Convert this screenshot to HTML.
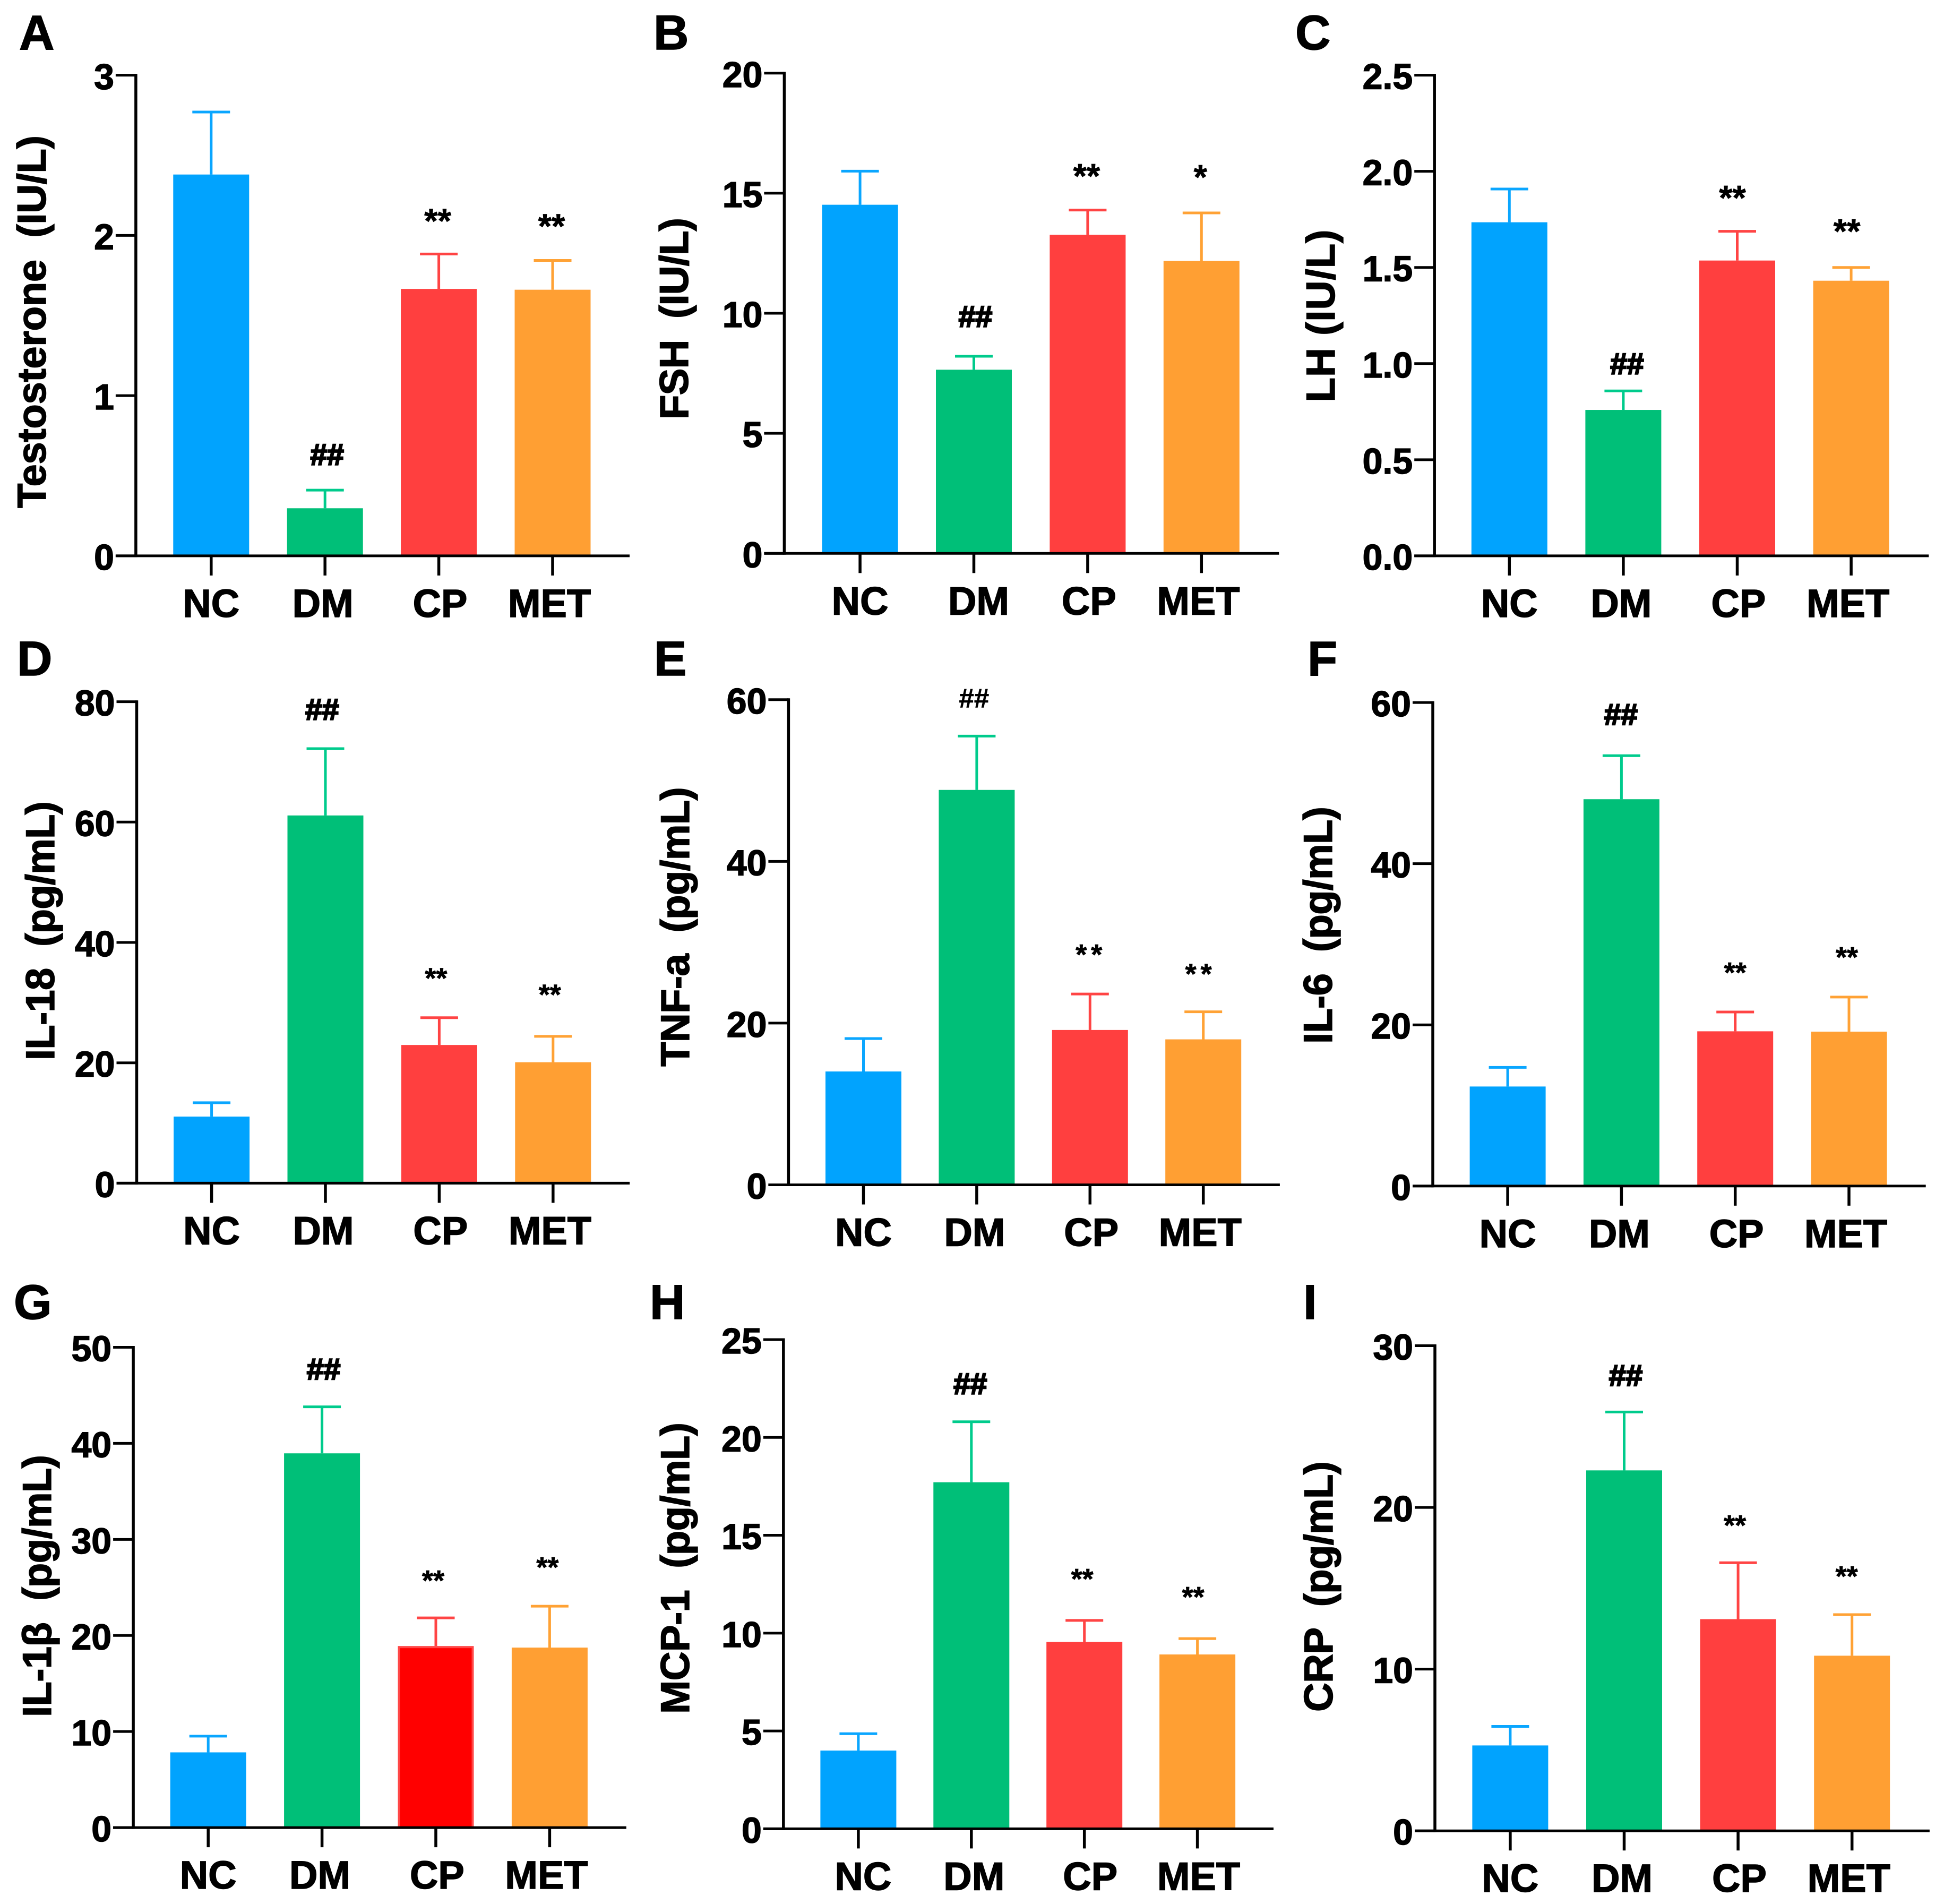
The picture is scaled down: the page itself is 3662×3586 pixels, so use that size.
<!DOCTYPE html>
<html lang="en">
<head>
<meta charset="utf-8">
<title>Hormone and cytokine bar charts</title>
<style>
  html, body { margin: 0; padding: 0; background: #fff; }
  svg { display: block; }
  text { font-family: "Liberation Sans", "DejaVu Sans", sans-serif; font-weight: bold; fill: #000; white-space: pre; stroke: #000; stroke-width: 1.5; }
  text.hash { stroke-width: 2.6; }
  text.thin { stroke-width: 0.6; }
  text.star { stroke-width: 0.8; }
</style>
</head>
<body>
<svg id="figure" xmlns="http://www.w3.org/2000/svg" width="3662" height="3586" viewBox="0 0 3662 3586"></svg>
<script>
const categories = ['NC', 'DM', 'CP', 'MET'];

const testosteroneMeans = [2.38, 0.297, 1.666, 1.661];
const testosteroneErrors = [0.39, 0.113, 0.218, 0.183];
const testosteroneTicks = ['0', '1', '2', '3'];
const testosteroneSig = ['', '##', '**', '**'];

const fshMeans = [14.52, 7.65, 13.27, 12.18];
const fshErrors = [1.40, 0.56, 1.03, 2.00];
const fshTicks = ['0', '5', '10', '15', '20'];
const fshSig = ['', '##', '**', '*'];

const lhMeans = [1.735, 0.759, 1.536, 1.431];
const lhErrors = [0.173, 0.099, 0.152, 0.069];
const lhTicks = ['0.0', '0.5', '1.0', '1.5', '2.0', '2.5'];
const lhSig = ['', '##', '**', '**'];

const il18Means = [11.07, 61.1, 22.96, 20.1];
const il18Errors = [2.3, 11.1, 4.54, 4.3];
const il18Ticks = ['0', '20', '40', '60', '80'];
const il18Sig = ['', '##', '**', '**'];

const tnfMeans = [14.02, 48.84, 19.15, 17.99];
const tnfErrors = [4.07, 6.66, 4.45, 3.41];
const tnfTicks = ['0', '20', '40', '60'];
const tnfSig = ['', '##', '**', '**'];

const il6Means = [12.35, 48.0, 19.2, 19.16];
const il6Errors = [2.37, 5.4, 2.4, 4.29];
const il6Ticks = ['0', '20', '40', '60'];
const il6Sig = ['', '##', '**', '**'];

const il1bMeans = [7.83, 38.96, 18.9, 18.74];
const il1bErrors = [1.69, 4.84, 2.93, 4.31];
const il1bTicks = ['0', '10', '20', '30', '40', '50'];
const il1bSig = ['', '##', '**', '**'];

const mcpMeans = [4.0, 17.71, 9.55, 8.91];
const mcpErrors = [0.86, 3.09, 1.1, 0.81];
const mcpTicks = ['0', '5', '10', '15', '20', '25'];
const mcpSig = ['', '##', '**', '**'];

const crpMeans = [5.28, 22.29, 13.09, 10.83];
const crpErrors = [1.18, 3.61, 3.49, 2.54];
const crpTicks = ['0', '10', '20', '30'];
const crpSig = ['', '##', '**', '**'];

const panels = [
  { id: 'a', letter: 'A', lx: 36, ly: 93, title: 'Testosterone  (IU/L)', tx: 86, ty: 606, tl: 702,
    means: testosteroneMeans, errors: testosteroneErrors, ticks: testosteroneTicks, sig: testosteroneSig,
    ax: 255.9, top: 141.6, base: 1046.9, right: 1186, c0: 397.8, step: 214.4,
    lift: [0, 66, 71, 73], dx: [0, 4, -2, -2], star: 65, hash: 57, nudge: [0, -4, 2.4, -6] },
  { id: 'b', letter: 'B', lx: 1231, ly: 93, title: 'FSH  (IU/L)', tx: 1296, ty: 600, tl: 380,
    means: fshMeans, errors: fshErrors, ticks: fshTicks, sig: fshSig,
    ax: 1477.4, top: 137.8, base: 1042.3, right: 2409.3, c0: 1620.1, step: 214.4,
    lift: [0, 74, 73, 76], dx: [0, 3, -2, -2], star: 65, hash: 57, nudge: [0, 9, 2.4, -6] },
  { id: 'c', letter: 'C', lx: 2440, ly: 93, title: 'LH (IU/L)', tx: 2514, ty: 595, tl: 325,
    means: lhMeans, errors: lhErrors, ticks: lhTicks, sig: lhSig,
    ax: 2702.2, top: 141.6, base: 1046.9, right: 3633.3, c0: 2843.3, step: 214.6,
    lift: [0, 50, 72, 77], dx: [0, 7, -9, -8], star: 65, hash: 57, nudge: [0, -4, 2.4, -6] },
  { id: 'd', letter: 'D', lx: 32, ly: 1272, title: 'IL-18  (pg/mL)', tx: 102, ty: 1753, tl: 488,
    means: il18Means, errors: il18Errors, ticks: il18Ticks, sig: il18Sig,
    ax: 257.5, top: 1321.6, base: 2228.4, right: 1186.2, c0: 398.6, step: 214.4,
    lift: [0, 73, 82, 86], dx: [0, -6, -6, -6], star: 54, hash: 57, nudge: [0, -4, 2.4, -6] },
  { id: 'e', letter: 'E', lx: 1232, ly: 1272, title: 'TNF-a  (pg/mL)', tx: 1298, ty: 1745.5, tl: 526.5,
    means: tnfMeans, errors: tnfErrors, ticks: tnfTicks, sig: tnfSig,
    ax: 1485.4, top: 1317.8, base: 2231.5, right: 2410.9, c0: 1626.5, step: 213.4,
    lift: [0, 70, 82, 79], dx: [0, -5, 2, -5], star: 54, hash: 51, thin: true, nudge: [0, -4, 2.4, -6] },
  { id: 'f', letter: 'F', lx: 2463, ly: 1272, title: 'IL-6  (pg/mL)', tx: 2509, ty: 1742.5, tl: 447,
    means: il6Means, errors: il6Errors, ticks: il6Ticks, sig: il6Sig,
    ax: 2699, top: 1323.1, base: 2233.8, right: 3627.7, c0: 2840.1, step: 214.3,
    lift: [0, 77, 82, 83], dx: [0, -1, 0, -4], star: 54, hash: 57, nudge: [0, -4, 2.4, -6] },
  { id: 'g', letter: 'G', lx: 26, ly: 2484, title: 'IL-1β  (pg/mL)', tx: 96, ty: 2987, tl: 494,
    means: il1bMeans, errors: il1bErrors, ticks: il1bTicks, sig: il1bSig,
    ax: 251.1, top: 2537.5, base: 3442.1, right: 1179.8, c0: 392.2, step: 214.4,
    lift: [0, 70, 78, 81], dx: [0, 3, -5, -4], star: 54, hash: 57, solidRed: true, nudge: [0, -4, 2.4, -6] },
  { id: 'h', letter: 'H', lx: 1224, ly: 2484, title: 'MCP-1  (pg/mL)', tx: 1298, ty: 2953.5, tl: 549,
    means: mcpMeans, errors: mcpErrors, ticks: mcpTicks, sig: mcpSig,
    ax: 1475.8, top: 2523, base: 3444.4, right: 2399, c0: 1616.9, step: 212.9,
    lift: [0, 71, 86, 86], dx: [0, -2, -4, -8], star: 54, hash: 57, nudge: [9, 5, 11, 2.4] },
  { id: 'i', letter: 'I', lx: 2455, ly: 2484, title: 'CRP  (pg/mL)', tx: 2510, ty: 2988, tl: 472,
    means: crpMeans, errors: crpErrors, ticks: crpTicks, sig: crpSig,
    ax: 2703, top: 2534.5, base: 3448.2, right: 3634.9, c0: 2844.9, step: 214.6,
    lift: [0, 68, 78, 80], dx: [0, 3, -6, -10], star: 54, hash: 57, nudge: [0, -4, 2.4, -6] }
];

const barColors = ['#01A3FE', '#00BF78', '#FF3F3F', '#FF9F33'];
const errColors = ['#0AA6FF', '#00CB8C', '#FF4444', '#FFA235'];

const SVG_NS = 'http://www.w3.org/2000/svg';
const root = document.getElementById('figure');

function make(tag, attrs, parent, text) {
  const node = document.createElementNS(SVG_NS, tag);
  for (const key in attrs) node.setAttribute(key, attrs[key]);
  if (text !== undefined) node.textContent = text;
  parent.appendChild(node);
  return node;
}

panels.forEach(function (p) {
  const maxValue = parseFloat(p.ticks[p.ticks.length - 1]);
  const yScale = function (v) { return p.base - (v / maxValue) * (p.base - p.top); };
  const xScale = function (i) { return p.c0 + i * p.step; };

  const group = make('g', {}, root);
  
  

  const letter = make('text', { x: p.lx, y: p.ly, 'font-size': 92 }, group, p.letter);
  
  

  const title = make('text', {
    transform: 'translate(' + p.tx + ',' + p.ty + ') rotate(-90)',
    'text-anchor': 'middle', 'font-size': 76,
    textLength: p.tl, lengthAdjust: 'spacing'
  }, group, p.title);
  
  

  p.means.forEach(function (mean, i) {
    const cx = xScale(i);
    const topY = yScale(mean);
    const errY = yScale(mean + p.errors[i]);

    const stem = make('line', { x1: cx, x2: cx, y1: topY, y2: errY, stroke: errColors[i], 'stroke-width': 5 }, group);
    
    

    const cap = make('line', { x1: cx - 35.5, x2: cx + 35.5, y1: errY, y2: errY, stroke: errColors[i], 'stroke-width': 5 }, group);
    
    

    const isSolid = p.solidRed && i === 2;
    const inset = isSolid ? 2 : 0;
    const bar = make('rect', {
      x: cx - 71.5 + inset, y: topY + inset,
      width: 143 - 2 * inset, height: Math.max(0, p.base - topY - inset),
      fill: isSolid ? '#FF0000' : barColors[i],
      stroke: isSolid ? '#FF4848' : 'none',
      'stroke-width': isSolid ? 4 : 0
    }, group);
    
    

    const mark = p.sig[i];
    if (mark) {
      const isHash = mark.charAt(0) === '#';
      const size = isHash ? p.hash : p.star;
      const centreY = errY - p.lift[i];
      const baseline = centreY + (isHash ? size * 0.36 - 2 : size * 0.48);
      const sigText = make('text', {
        x: cx + p.dx[i], y: baseline, 'text-anchor': 'middle', 'font-size': size,
        'letter-spacing': p.thin && !isHash ? 8 : 0,
        class: isHash ? (p.thin ? 'thin' : 'hash') : 'star'
      }, group, mark);
      
      
    }

    const xTick = make('line', { x1: cx, x2: cx, y1: p.base, y2: p.base + 37, stroke: '#000', 'stroke-width': 5.5 }, group);
    
    

    const xLabel = make('text', {
      x: cx + p.nudge[i], y: p.base + 115, 'text-anchor': 'middle', 'font-size': 74
    }, group, categories[i]);
    
    
  });

  p.ticks.forEach(function (label) {
    const ty = yScale(parseFloat(label));

    const yTick = make('line', { x1: p.ax - 38, x2: p.ax, y1: ty, y2: ty, stroke: '#000', 'stroke-width': 5 }, group);
    
    

    const yLabel = make('text', {
      x: p.ax - 41, y: ty + 26, 'text-anchor': 'end', 'font-size': 68
    }, group, label);
    
    
  });

  const yAxis = make('line', { x1: p.ax, x2: p.ax, y1: p.top - 2.5, y2: p.base + 2.5, stroke: '#000', 'stroke-width': 5.5 }, group);
  
  

  const xAxis = make('line', { x1: p.ax - 38, x2: p.right, y1: p.base, y2: p.base, stroke: '#000', 'stroke-width': 5 }, group);
  
  
});
</script>
</body>
</html>
